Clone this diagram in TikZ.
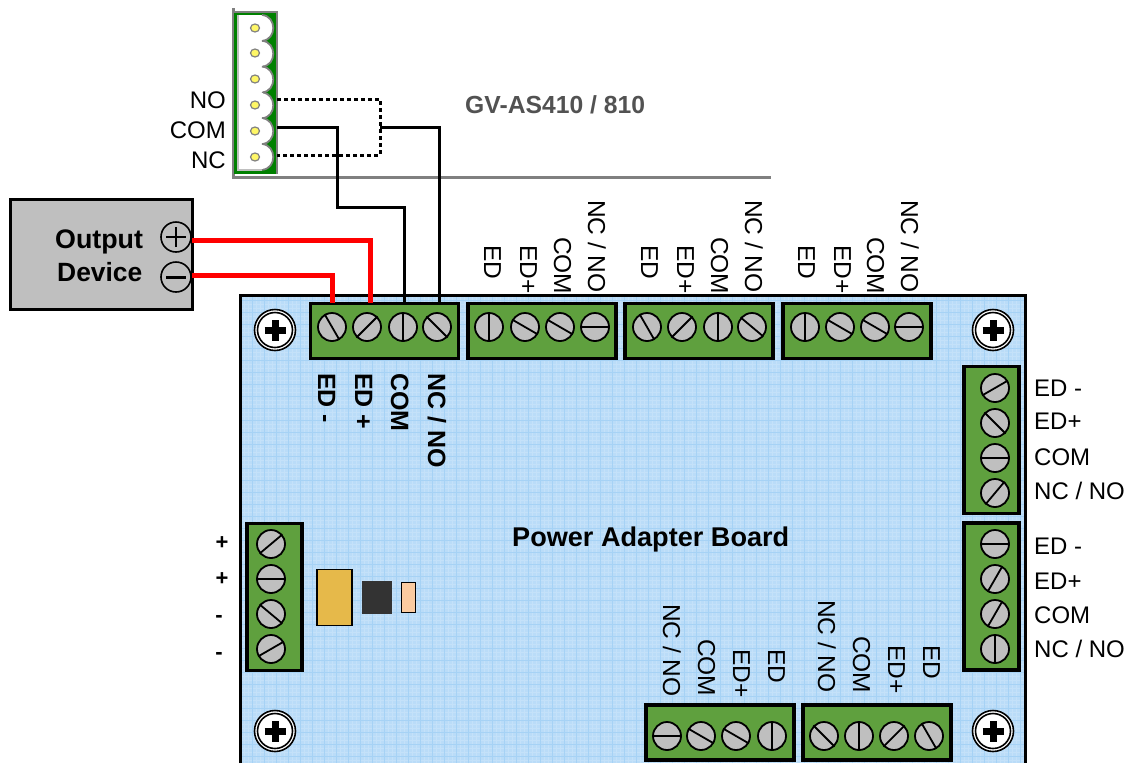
\documentclass[tikz,border=0pt]{standalone}
\usepackage{fontspec}
\setmainfont{Liberation Sans}
\definecolor{boardblue}{HTML}{BADCF8}
\definecolor{gridlight}{HTML}{C4E1F9}
\definecolor{griddark}{HTML}{A6D2F5}
\definecolor{termgreen}{HTML}{5FA03E}
\definecolor{plugreen}{HTML}{008000}
\definecolor{screwgray}{HTML}{BFBFBF}
\definecolor{capyellow}{HTML}{E6B94A}
\definecolor{respeach}{HTML}{FBCBA0}
\tikzset{
    tblockh/.style={draw=black, fill=termgreen, line width=3.2, minimum width=148, minimum height=55, inner sep=0},
    tblockv/.style={draw=black, fill=termgreen, line width=3.2, minimum width=55, minimum height=147, inner sep=0},
    termscrew/.style={circle, draw=black, fill=screwgray, line width=1.8, minimum size=28, inner sep=0},
    slotline/.style={line width=1.8},
    mountouter/.style={circle, draw=black, fill=white, line width=1.6, minimum size=41, inner sep=0},
    mountinner/.style={circle, draw=black, fill=white, line width=1.6, minimum size=35, inner sep=0},
    mountcross/.style={line width=7},
    redwire/.style={draw=red, line width=5},
    blackwire/.style={draw=black, line width=3},
    dashwire/.style={draw=black, line width=3, dash pattern=on 4 off 3},
    vlabel/.style={rotate=-90, anchor=base west, inner sep=0, font=\fontsize{24.5}{28}\selectfont},
    vbold/.style={rotate=-90, anchor=base west, inner sep=0, font=\fontsize{25}{28}\selectfont\bfseries},
    hlabel/.style={anchor=base west, inner sep=0, font=\fontsize{24}{28}\selectfont},
    plabel/.style={anchor=base east, inner sep=0, font=\fontsize{24}{28}\selectfont},
    polelabel/.style={anchor=base, inner sep=0, font=\fontsize{22}{26}\selectfont\bfseries},
    titlelabel/.style={anchor=base west, inner sep=0, font=\fontsize{#1}{30}\selectfont\bfseries},
    plugbump/.style={draw=gray, fill=white, line width=1.8},
    pinhole/.style={ellipse, draw=gray, fill=yellow!60!white, line width=1.2, minimum width=9, minimum height=8, inner sep=0},
    polecircle/.style={circle, draw=black, line width=1.6, minimum size=30, inner sep=0},
}
\usetikzlibrary{shapes.geometric}
\begin{document}
\begin{tikzpicture}[x=1pt, y=-1pt]
    \useasboundingbox (0,0) rectangle (1134,763);

    \fill[boardblue] (240,295) rectangle (1025,763);
    \begin{scope}[y=1pt]
        \clip (240,-763) rectangle (1025,-295);
        \draw[gridlight, line width=0.8, step=4] (240,-763) grid (1025,-295);
        \draw[griddark, line width=0.7, step=12] (240,-763) grid (1025,-295);
    \end{scope}
    \draw[line width=3] (240,763) |- (1025,295) -- (1025,763);

    \draw[gray, line width=3] (233,8) -- (233,177) -- (771,177);
    \fill[plugreen] (234,12) rectangle (277,174);
    \draw[gray, line width=2] (234,12) -- (277,12) -- (277,174);
    \fill[white] (238,15) rectangle (262,170);
    \draw[gray!50, line width=2] (238,15) -- (238,170) -- (262,170);
    \foreach \py in {15,40.8,66.6,92.4,118.2,144}{
        \draw[plugbump] (262,\py) .. controls (277,\py+1) and (277,\py+25) .. (262,\py+25.8);
        \fill[white] (258,\py+1) rectangle (263,\py+25);
    }
    \foreach \nm/\py in {pina/28,pinb/53,pinc/79,pind/105,pine/131,pinf/157}{
        \node[pinhole] (\nm) at (255,\py) {};
    }
    \node[plabel] (lblno) at (226,108) {NO};
    \node[plabel] (lblcom) at (226,138) {COM};
    \node[plabel] (lblnc) at (226,168) {NC};
    \node[titlelabel=24.7, text=black!68] (lblgv) at (465,113) {GV-AS410 / 810};

    \node[draw=black, fill=screwgray, line width=3, minimum width=182, minimum height=110, inner sep=0] (outdev) at (101,254) {};
    \node[titlelabel=26.8] (lbloutput) at (55,248) {Output};
    \node[titlelabel=26.4] (lbldevice) at (57,281) {Device};
    \node[polecircle] (oplus) at (176,237) {};
    \node[polecircle] (ominus) at (176,277) {};
    \draw[line width=2.4] ([xshift=-10]oplus.center) -- ([xshift=10]oplus.center);
    \draw[line width=2.4] ([yshift=-10]oplus.center) -- ([yshift=10]oplus.center);
    \draw[line width=3] ([xshift=-10]ominus.center) -- ([xshift=10]ominus.center);

    \foreach \nm/\px/\py in {tba/384.5/331,tbb/542/331,tbc/699/331,tbd/857/331,tbg/720/732.5,tbh/877/732.5}{
        \node[tblockh] (\nm) at (\px,\py) {};
    }
    \foreach \nm/\px/\py in {tbe/991.5/440,tbf/991.5/596.5,tbi/274.5/597}{
        \node[tblockv] (\nm) at (\px,\py) {};
    }

    \foreach \nm/\px/\py/\ang in {
        sa/332/327/120,sb/367/327/45,sc/403/327/90,sd/437/327/135,
        se/489/327/90,sf/525/327/150,sg/560/327/150,sh/595/327/0,
        si/647/327/120,sj/682/327/45,sk/718/327/90,sl/752/327/140,
        sm/805/327/90,sn/840/327/150,so/875/327/150,sp/909/327/0,
        sq/995/388/30,sr/995/423/135,ss/995/458/0,st/995/493/50,
        su/995/544/0,sv/995/579/60,sw/995/614/60,sx/995/649/90,
        sy/271/544/40,sz/271/579/0,saa/271/614/140,sab/271/649/30,
        sac/667/736/0,sad/701/736/150,sae/736/736/150,saf/772/736/90,
        sag/824/736/135,sah/859/736/90,sai/894/736/45,saj/929/736/120}{
        \node[termscrew] (\nm) at (\px,\py) {};
        \pgfmathtruncatemacro{\opp}{\ang+180}
        \draw[slotline] (\nm.\ang) -- (\nm.\opp);
    }

    \foreach \nm/\px/\py in {mta/275/330,mtb/993/330,mtc/275/731,mtd/993/731}{
        \node[mountouter] (\nm) at (\px,\py) {};
        \node[mountinner] (\nm i) at (\px,\py) {};
        \draw[mountcross] ([xshift=-10.5]\nm.center) -- ([xshift=10.5]\nm.center);
        \draw[mountcross] ([yshift=-10.5]\nm.center) -- ([yshift=10.5]\nm.center);
    }

    \node[draw=black, fill=capyellow, line width=1.6, minimum width=35, minimum height=56, inner sep=0] (capyel) at (334.5,597.5) {};
    \node[fill=black!80, minimum width=30, minimum height=33, inner sep=0] (chipblk) at (377,597.5) {};
    \node[draw=black, fill=respeach, line width=1.6, minimum width=14, minimum height=30, inner sep=0] (respch) at (408.5,597.5) {};

    \foreach \nm/\px/\py/\txt in {
        ua/484/245/ED,ub/520/245/ED+,uc/554/237/COM,ud/588/200/{NC / NO},
        ue/641/245/ED,uf/677/245/ED+,ug/711/237/COM,uh/745/200/{NC / NO},
        ui/798/245/ED,uj/834/245/ED+,uk/867/237/COM,ul/901/200/{NC / NO},
        va/663/604/{NC / NO},vb/698/639/COM,vc/733/649/ED+,vd/768/649/ED,
        ve/818/600/{NC / NO},vf/853/636/COM,vg/888/645/ED+,vh/923/645/ED}{
        \node[vlabel] (\nm) at (\px,\py) {\txt};
    }
    \foreach \nm/\px/\txt in {wa/318/ED -,wb/355/ED +,wc/391/COM,wd/428/{NC / NO}}{
        \node[vbold] (\nm) at (\px,373) {\txt};
    }
    \foreach \nm/\py/\txt in {
        xa/396/ED -,xb/429/ED+,xc/465/COM,xd/499/{NC / NO},
        xe/554/ED -,xf/589/ED+,xg/623/COM,xh/657/{NC / NO}}{
        \node[hlabel] (\nm) at (1034,\py) {\txt};
    }
    \foreach \nm/\px/\py/\txt in {ya/222/549/+,yb/222/585/+,yc/219/622/-,yd/219/659/-}{
        \node[polelabel] (\nm) at (\px,\py) {\txt};
    }
    \node[titlelabel=27.1] (lblboard) at (512,546) {Power Adapter Board};

    \coordinate (plugno) at (277,99);
    \coordinate (plugcom) at (277,127);
    \coordinate (plugnc) at (277,155);
    \coordinate (dashtop) at (380,99);
    \coordinate (dashbot) at (380,155);
    \coordinate (dashtap) at (380,127);
    \coordinate (bendcom) at (337,207);
    \coordinate (termed) at (332,303);
    \coordinate (termep) at (370,303);
    \coordinate (termcom) at (404,303);
    \coordinate (termno) at (439,303);
    \coordinate (outplus) at (192,240);
    \coordinate (outminus) at (192,275);

    \draw[dashwire] (plugno) -- (dashtop) -- (dashbot) -- (plugnc);
    \draw[blackwire] (plugcom) -| (bendcom) -| (termcom);
    \draw[blackwire] (dashtap) -| (termno);
    \draw[redwire] (outplus) -| (termep);
    \draw[redwire] (outminus) -| (termed);
\end{tikzpicture}
\end{document}
